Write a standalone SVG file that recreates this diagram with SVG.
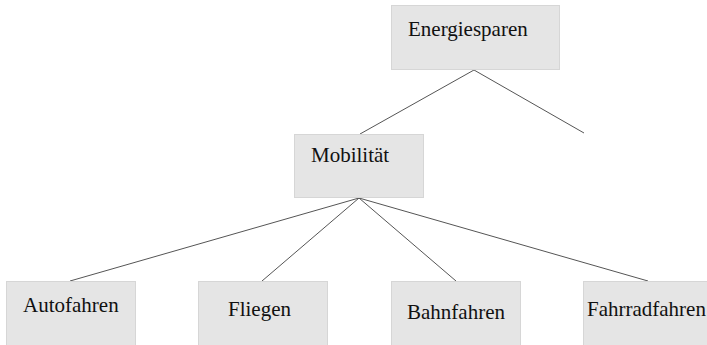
<svg xmlns="http://www.w3.org/2000/svg" width="707" height="345" viewBox="0 0 707 345">
<style>
.box{fill:#e5e5e5;stroke:#d6d6d6;stroke-width:1}
.lbl{font-family:"Liberation Serif","Times New Roman",serif;font-size:21px;fill:#111}
.edge{stroke:#555;stroke-width:1;fill:none}
</style>
<rect width="707" height="345" fill="#fff"/>
<g id="connectors">
<line class="edge" x1="474" y1="70" x2="360" y2="134"/>
<line class="edge" x1="474" y1="70" x2="584" y2="133"/>
<line class="edge" x1="359" y1="198" x2="70" y2="281"/>
<line class="edge" x1="359" y1="198" x2="262" y2="281"/>
<line class="edge" x1="359" y1="198" x2="456" y2="281"/>
<line class="edge" x1="359" y1="198" x2="648" y2="281"/>
</g>
<g id="energiesparen">
<rect class="box" x="391.5" y="5.5" width="168" height="64"/>
<text class="lbl" x="408" y="36">Energiesparen</text>
</g>
<g id="mobilitaet">
<rect class="box" x="294.5" y="134.5" width="129" height="63"/>
<text class="lbl" x="311" y="162">Mobilität</text>
</g>
<g id="autofahren">
<rect class="box" x="6.5" y="281.5" width="129" height="70"/>
<text class="lbl" x="23" y="312">Autofahren</text>
</g>
<g id="fliegen">
<rect class="box" x="198.5" y="281.5" width="129" height="70"/>
<text class="lbl" x="228" y="316">Fliegen</text>
</g>
<g id="bahnfahren">
<rect class="box" x="391.5" y="281.5" width="129" height="70"/>
<text class="lbl" x="407" y="319">Bahnfahren</text>
</g>
<g id="fahrradfahren">
<rect class="box" x="583.5" y="281.5" width="130" height="70"/>
<text class="lbl" x="587" y="316">Fahrradfahren</text>
</g>
</svg>
